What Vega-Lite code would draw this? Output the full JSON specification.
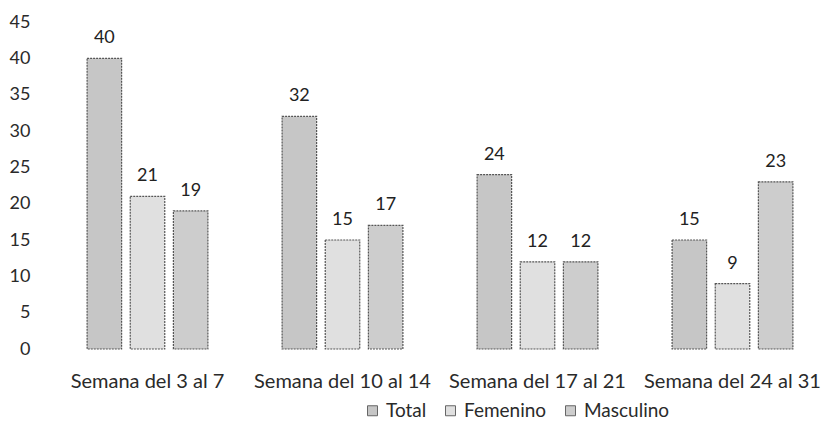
{
  "$schema": "https://vega.github.io/schema/vega-lite/v6.json",
  "autosize": {"type": "none"},
  "width": 780,
  "height": 327,
  "padding": {"left": 50, "top": 22, "right": 0, "bottom": 80},
  "background": "#ffffff",
  "config": {
    "view": {"stroke": null},
    "font": "Lato",
    "axis": {"labelFont": "Lato", "labelColor": "#2a2a2a"},
    "legend": {"labelFont": "Lato", "labelColor": "#2a2a2a"}
  },
  "data": {
    "values": [
      {"semana": "Semana del 3 al 7", "serie": "Total", "valor": 40},
      {"semana": "Semana del 3 al 7", "serie": "Femenino", "valor": 21},
      {"semana": "Semana del 3 al 7", "serie": "Masculino", "valor": 19},
      {"semana": "Semana del 10 al 14", "serie": "Total", "valor": 32},
      {"semana": "Semana del 10 al 14", "serie": "Femenino", "valor": 15},
      {"semana": "Semana del 10 al 14", "serie": "Masculino", "valor": 17},
      {"semana": "Semana del 17 al 21", "serie": "Total", "valor": 24},
      {"semana": "Semana del 17 al 21", "serie": "Femenino", "valor": 12},
      {"semana": "Semana del 17 al 21", "serie": "Masculino", "valor": 12},
      {"semana": "Semana del 24 al 31", "serie": "Total", "valor": 15},
      {"semana": "Semana del 24 al 31", "serie": "Femenino", "valor": 9},
      {"semana": "Semana del 24 al 31", "serie": "Masculino", "valor": 23}
    ]
  },
  "encoding": {
    "x": {
      "field": "semana", "type": "nominal", "sort": null, "title": null,
      "scale": {"paddingInner": 0, "paddingOuter": 0},
      "axis": {"labelAngle": 0, "labelFontSize": 20, "labelPadding": 22, "ticks": false, "domain": false, "labelLimit": 300}
    },
    "xOffset": {
      "field": "serie", "type": "nominal", "sort": ["Total", "Femenino", "Masculino"],
      "scale": {"paddingInner": 0.2, "paddingOuter": 0.86}
    },
    "y": {
      "field": "valor", "type": "quantitative", "title": null,
      "scale": {"domain": [0, 45], "nice": false},
      "axis": {"values": [0, 5, 10, 15, 20, 25, 30, 35, 40, 45], "grid": false, "domain": false, "ticks": false, "labelFontSize": 18, "labelPadding": 20}
    }
  },
  "layer": [
    {
      "mark": {"type": "bar", "stroke": "#555555", "strokeWidth": 1.2, "strokeDash": [2, 1]},
      "encoding": {
        "color": {
          "field": "serie", "type": "nominal", "sort": ["Total", "Femenino", "Masculino"],
          "scale": {"domain": ["Total", "Femenino", "Masculino"], "range": ["#c6c6c6", "#e0e0e0", "#cdcdcd"]},
          "legend": {
            "title": null, "orient": "none", "direction": "horizontal",
            "legendX": 313, "legendY": 379, "symbolType": "square", "symbolSize": 100,
            "symbolStrokeColor": "#666666", "symbolStrokeWidth": 1,
            "labelFontSize": 19, "columnPadding": 14, "labelOffset": 4
          }
        }
      }
    },
    {
      "mark": {"type": "text", "baseline": "bottom", "dy": -11, "fontSize": 18, "color": "#222222"},
      "encoding": {"text": {"field": "valor", "type": "quantitative"}}
    }
  ]
}
